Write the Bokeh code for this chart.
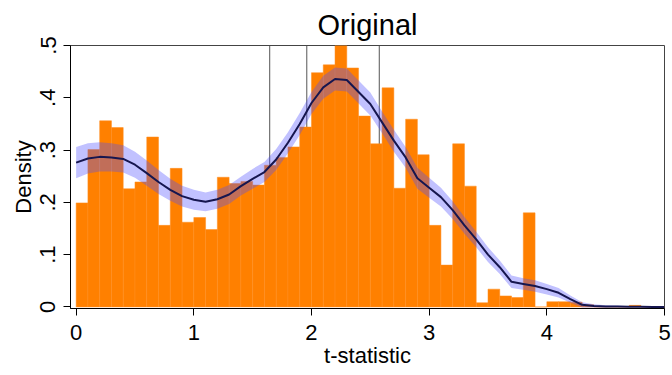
from bokeh.plotting import figure
from bokeh.models import FixedTicker, Range1d
from bokeh.embed import file_html
from bokeh.resources import INLINE

# ---- data ----
bin_start = 0.0
bin_width = 0.1
bar_heights = [0.199, 0.301, 0.356, 0.343, 0.226, 0.239, 0.325, 0.156, 0.265, 0.162,
               0.171, 0.148, 0.248, 0.236, 0.240, 0.233, 0.271, 0.286, 0.306, 0.344,
               0.448, 0.463, 0.500, 0.457, 0.365, 0.312, 0.419, 0.227, 0.359, 0.291,
               0.156, 0.080, 0.312, 0.231, 0.008, 0.034, 0.021, 0.018, 0.180, 0.000,
               0.010, 0.010, 0.009, 0.004, 0.000, 0.000, 0.000, 0.003, 0.000, 0.000]

kde_t = [0.0, 0.1, 0.2, 0.3, 0.4, 0.5, 0.6, 0.7, 0.8, 0.9,
         1.0, 1.1, 1.2, 1.3, 1.4, 1.5, 1.6, 1.7, 1.8, 1.9,
         2.0, 2.1, 2.2, 2.3, 2.4, 2.5, 2.6, 2.7, 2.8, 2.9,
         3.0, 3.1, 3.2, 3.3, 3.4, 3.5, 3.6, 3.7, 3.8, 3.9,
         4.0, 4.1, 4.2, 4.3, 4.4, 4.5, 4.6, 4.7, 4.8, 4.9, 5.0]
kde_density = [0.276, 0.284, 0.287, 0.286, 0.283, 0.272, 0.256, 0.239, 0.224, 0.212,
               0.205, 0.201, 0.206, 0.215, 0.231, 0.245, 0.258, 0.282, 0.314, 0.350,
               0.390, 0.420, 0.436, 0.434, 0.411, 0.388, 0.353, 0.318, 0.286, 0.246,
               0.228, 0.210, 0.185, 0.156, 0.129, 0.100, 0.076, 0.048, 0.044, 0.040,
               0.034, 0.027, 0.015, 0.004, 0.002, 0.001, 0.001, 0.0005, 0.0005, 0.0, 0.0]
kde_halfwidth = [0.030, 0.029, 0.028, 0.027, 0.026, 0.025, 0.024, 0.023, 0.021, 0.020,
                 0.019, 0.018, 0.018, 0.018, 0.018, 0.019, 0.019, 0.020, 0.020, 0.021,
                 0.021, 0.022, 0.022, 0.022, 0.022, 0.022, 0.021, 0.021, 0.020, 0.020,
                 0.019, 0.018, 0.017, 0.016, 0.015, 0.014, 0.013, 0.012, 0.011, 0.011,
                 0.010, 0.009, 0.007, 0.005, 0.003, 0.002, 0.0015, 0.001, 0.001, 0.001, 0.001]

critical_values = [1.645, 1.96, 2.576]

x_ticks = [0, 1, 2, 3, 4, 5]
y_ticks = [0, 0.1, 0.2, 0.3, 0.4, 0.5]
y_tick_labels = ["0", ".1", ".2", ".3", ".4", ".5"]

title_text = "Original"
x_label = "t-statistic"
y_label = "Density"

# ---- derived ----
n = len(bar_heights)
bar_left = [bin_start + i * bin_width for i in range(n)]
bar_right = [bin_start + (i + 1) * bin_width for i in range(n)]
band_lo = [d - h for d, h in zip(kde_density, kde_halfwidth)]
band_hi = [d + h for d, h in zip(kde_density, kde_halfwidth)]

FONT = "Liberation Sans"

p = figure(width=672, height=375, output_backend="svg", toolbar_location=None,
           x_range=Range1d(-0.048, 5.0), y_range=Range1d(-0.003, 0.5),
           min_border_left=70, min_border_right=8, min_border_top=45, min_border_bottom=67,
           background_fill_color="white", border_fill_color="white")

p.title.text = title_text
p.title.align = "center"
p.title.text_font = FONT
p.title.text_font_size = "29px"
p.title.text_font_style = "normal"
p.title.text_color = "black"
p.title.standoff = 9

p.xgrid.visible = False
p.ygrid.visible = False
p.outline_line_color = "#444444"
p.outline_line_width = 1

# critical value lines (behind bars)
p.segment(x0=critical_values, y0=[y_ticks[0]] * len(critical_values),
          x1=critical_values, y1=[y_ticks[-1]] * len(critical_values),
          line_color="#555555", line_width=1)

# histogram
p.quad(left=bar_left, right=bar_right, bottom=0, top=bar_heights,
       fill_color="#ff8000", line_color="#ff8d1f", line_width=0.5)

# confidence band + density
p.varea(x=kde_t, y1=band_lo, y2=band_hi, fill_color="#4d4dff", fill_alpha=0.35)
p.line(kde_t, kde_density, line_color="#16164f", line_width=2)

for ax in (p.xaxis[0], p.yaxis[0]):
    ax.axis_line_color = "black"
    ax.axis_line_width = 1
    ax.major_tick_line_color = "black"
    ax.major_tick_out = 7
    ax.major_tick_in = 0
    ax.minor_tick_line_color = None
    ax.major_label_text_font = FONT
    ax.major_label_text_font_size = "22px"
    ax.major_label_text_color = "black"
    ax.axis_label_text_font = FONT
    ax.axis_label_text_font_size = "22px"
    ax.axis_label_text_font_style = "normal"
    ax.axis_label_text_color = "black"

p.xaxis.ticker = FixedTicker(ticks=x_ticks)
p.xaxis.axis_label = x_label
p.xaxis.major_label_standoff = 9
p.xaxis.axis_label_standoff = 0

p.yaxis.ticker = FixedTicker(ticks=y_ticks)
p.yaxis.major_label_overrides = {t: s for t, s in zip(y_ticks, y_tick_labels)}
p.yaxis.major_label_orientation = "vertical"
p.yaxis.axis_label = y_label
p.yaxis.major_label_standoff = 8
p.yaxis.axis_label_standoff = 2

open("out.html", "w").write(file_html(p, INLINE))
